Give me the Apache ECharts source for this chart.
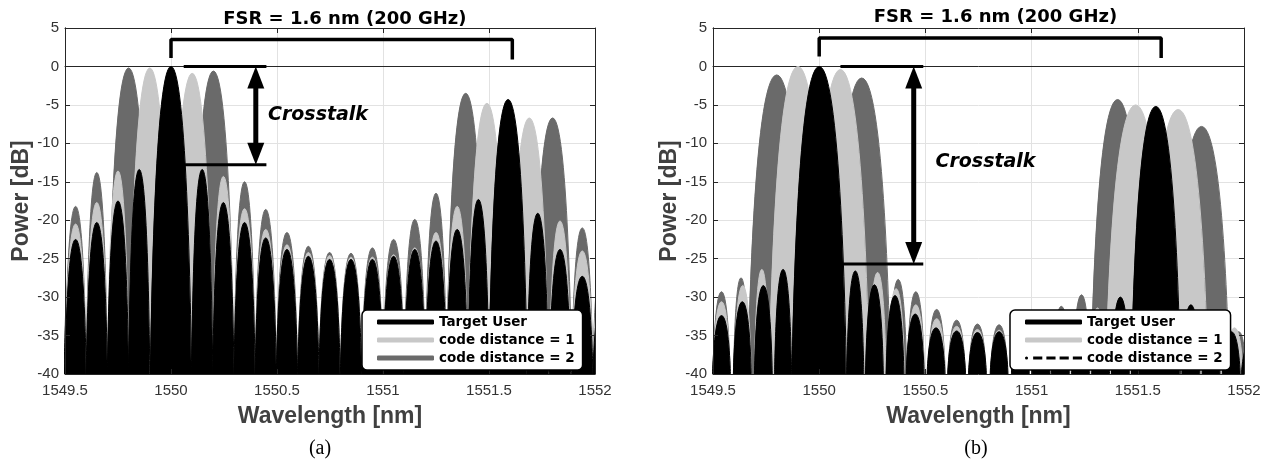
<!DOCTYPE html>
<html><head><meta charset="utf-8">
<script src="https://cdn.jsdelivr.net/npm/echarts@6/dist/echarts.min.js"></script>
<style>html,body{margin:0;padding:0;background:#fff}#c{width:1273px;height:469px}</style>
</head><body><div id="c"></div>
<script>
// ---------- tick labels / names ----------
const xTickLabels = ['1549.5','1550','1550.5','1551','1551.5','1552'];
const yTickLabels = ['-40','-35','-30','-25','-20','-15','-10','-5','0','5'];
const seriesNames = ['Target User','code distance = 1','code distance = 2'];
const panelCaptions = ['(a)','(b)'];
const fsrText = 'FSR = 1.6 nm (200 GHz)';
const xtalkText = 'Crosstalk';
const FLOOR_DB = -40;   // spectral nulls fall below the plotted range

// ---------- spectra, one entry per lobe: [centre nm, peak dB, half-width to null nm] ----------
// panel (a)
const a_target = [[1549.45,-25,0.05],[1549.55,-22.5,0.05],[1549.65,-20.3,0.05],[1549.75,-17.5,0.05],[1549.85,-13.4,0.05],
[1550.0,0,0.097],[1550.147,-13.4,0.05],[1550.247,-17.7,0.05],[1550.347,-20.3,0.05],[1550.447,-22.3,0.05],[1550.547,-23.8,0.05],
[1550.648,-24.7,0.05],[1550.748,-25.1,0.05],[1550.849,-25.1,0.05],[1550.95,-25.1,0.05],[1551.05,-24.7,0.05],[1551.15,-23.8,0.05],
[1551.25,-22.7,0.05],[1551.35,-21.2,0.05],[1551.45,-17.3,0.05],[1551.59,-4.3,0.09],[1551.73,-19.1,0.05],[1551.835,-23.8,0.05],
[1551.94,-27.3,0.05],[1552.04,-30,0.05]];
const a_cd1 = [[1549.45,-24,0.05],[1549.55,-20.5,0.05],[1549.65,-17.7,0.05],[1549.75,-13.6,0.05],[1549.9,-0.2,0.097],[1550.1,-0.9,0.097],
[1550.247,-14.3,0.05],[1550.347,-18.5,0.05],[1550.447,-21.2,0.05],[1550.547,-23.2,0.05],[1550.648,-24.2,0.05],[1550.748,-24.6,0.05],
[1550.849,-24.8,0.05],[1550.95,-24.8,0.05],[1551.05,-24.5,0.05],[1551.15,-23.6,0.05],[1551.25,-21.6,0.05],[1551.35,-18.2,0.05],
[1551.49,-4.8,0.09],[1551.69,-6.7,0.09],[1551.835,-20.1,0.05],[1551.94,-24,0.05],[1552.04,-27,0.05]];
const a_cd2 = [[1549.45,-22,0.05],[1549.55,-18.2,0.05],[1549.65,-13.8,0.05],[1549.8,-0.2,0.097],[1549.95,-13.6,0.05],[1550.05,-14.0,0.05],
[1550.2,-0.6,0.097],[1550.347,-15,0.05],[1550.447,-18.6,0.05],[1550.547,-21.6,0.05],[1550.648,-23.4,0.05],[1550.748,-24.2,0.05],
[1550.849,-24.3,0.05],[1550.95,-23.6,0.05],[1551.05,-22.5,0.05],[1551.15,-19.9,0.05],[1551.25,-16.5,0.05],[1551.39,-3.5,0.09],
[1551.54,-16.9,0.05],[1551.64,-19,0.05],[1551.8,-6.7,0.09],[1551.94,-21,0.05],[1552.04,-24,0.05]];
// panel (b)
const b_target = [[1549.44,-34,0.045],[1549.54,-32.4,0.042],[1549.638,-30.6,0.042],[1549.737,-28.5,0.042],[1549.83,-26.4,0.04],
[1550.0,0,0.128],[1550.17,-26.6,0.04],[1550.26,-28.4,0.042],[1550.357,-29.8,0.042],[1550.452,-32.2,0.042],[1550.55,-34,0.042],
[1550.647,-34.4,0.042],[1550.745,-34.6,0.042],[1550.847,-34.5,0.042],[1550.947,-34.5,0.042],[1551.045,-34.3,0.042],[1551.135,-33.8,0.042],
[1551.23,-33,0.042],[1551.325,-32,0.042],[1551.418,-30,0.042],[1551.585,-5.2,0.115],[1551.75,-31,0.042],[1551.845,-33,0.042],
[1551.94,-34.5,0.042],[1552.03,-36,0.042]];
const b_cd1 = [[1549.44,-32,0.04],[1549.54,-30.6,0.04],[1549.64,-28.5,0.04],[1549.73,-26.4,0.035],[1549.9,0,0.135],[1550.1,-0.4,0.135],
[1550.275,-26.8,0.04],[1550.362,-28.9,0.04],[1550.455,-31,0.04],[1550.553,-32.8,0.04],[1550.647,-33.8,0.04],[1550.745,-34.2,0.04],
[1550.847,-34.3,0.04],[1550.947,-34.2,0.04],[1551.045,-34,0.04],[1551.135,-33.2,0.04],[1551.23,-31.8,0.04],[1551.31,-31.4,0.035],
[1551.49,-5,0.14],[1551.69,-5.6,0.14],[1551.87,-32,0.04],[1551.955,-34,0.04]];
const b_cd2 = [[1549.44,-31,0.04],[1549.54,-29.3,0.04],[1549.632,-27.5,0.035],[1549.8,-1.1,0.135],[1549.97,-27.5,0.035],[1550.03,-27.9,0.035],
[1550.2,-1.5,0.135],[1550.372,-27.7,0.04],[1550.455,-29.3,0.04],[1550.553,-31.6,0.04],[1550.647,-33,0.04],[1550.745,-33.5,0.04],
[1550.847,-33.6,0.04],[1550.947,-33.4,0.04],[1551.045,-33,0.04],[1551.14,-31.2,0.04],[1551.235,-29.7,0.04],[1551.405,-4.3,0.125],
[1551.58,-30.7,0.035],[1551.8,-7.8,0.13],[1551.975,-34.5,0.035]];

// ---------- annotations (data coordinates) ----------
const a_bracket = [[1550.0,1.1],[1550.0,3.5],[1551.61,3.5],[1551.61,0.9]];
const a_xtalkTop = [[1550.06,0],[1550.45,0]];
const a_xtalkBottom = [[1549.97,-12.8],[1550.45,-12.8]];
const a_arrow = [[1550.40,0],[1550.40,-12.8]];
const a_fsrAt = [1550.82,3.5];
const a_xtalkAt = [1550.455,-6.3];

const b_bracket = [[1550.0,1.3],[1550.0,3.7],[1551.61,3.7],[1551.61,1.1]];
const b_xtalkTop = [[1550.10,0],[1550.49,0]];
const b_xtalkBottom = [[1550.02,-25.7],[1550.49,-25.7]];
const b_arrow = [[1550.445,0],[1550.445,-25.7]];
const b_fsrAt = [1550.83,3.7];
const b_xtalkAt = [1550.545,-12.5];

// ---------- styling ----------
const BLACK = '#000000', LIGHT = '#c8c8c8', DARK = '#6a6a6a';
const AX = '#262626', GRIDC = '#e2e2e2', LBL = '#333333';
const LOBE_SMOOTH = 0.85;
const grids = [{left:65, top:28, width:530, height:346}, {left:713, top:28, width:531, height:346}];
const legendPos = [{left:362, top:310}, {left:1010, top:310}];
const captionPos = [[320,449],[976,449]];

const upHead = 'path://M0,20 L8.5,0 L17,20 Z';
const downHead = 'path://M0,0 L17,0 L8.5,20 Z';
const dashIcon = 'path://M0,1.5 A1.5,1.5 0 1 0 3,1.5 A1.5,1.5 0 1 0 0,1.5 Z M8,0 L17,0 L17,3 L8,3 Z M21,0 L30,0 L30,3 L21,3 Z M34,0 L43,0 L43,3 L34,3 Z M47,0 L56,0 L56,3 L47,3 Z';

// each lobe becomes its own line segment: null -> peak -> null, then a break
function lobeData(lobes) {
  const out = [];
  lobes.forEach(([c, p, h]) => { out.push([c - h, FLOOR_DB], [c, p], [c + h, FLOOR_DB], [c + h, '-']); });
  return out;
}

const xAxes = [], yAxes = [];
function addAxes(gi) {
  const font = 'Liberation Sans, Arial, sans-serif';
  const xb = {type:'value', gridIndex:gi, min:1549.5, max:1552, interval:0.5, position:'bottom', z:0,
    axisLine:{show:true, lineStyle:{color:AX, width:1}}, axisTick:{show:false},
    axisLabel:{margin:9, color:LBL, fontFamily:font, fontSize:15,
      formatter:(v)=>xTickLabels[Math.round((v-1549.5)/0.5)]},
    splitLine:{show:true, lineStyle:{color:GRIDC, width:1}},
    name:'Wavelength [nm]', nameLocation:'middle', nameGap:31,
    nameTextStyle:{fontFamily:font, fontWeight:'bold', fontSize:23, color:'#404040'}};
  const edge = (pos) => ({type:'value', gridIndex:gi, min:1549.5, max:1552, interval:0.5, position:pos, z:5,
    axisLine:{show:true, onZero:false, lineStyle:{color:AX, width:1}}, axisTick:{show:true, inside:true, length:5, lineStyle:{color:AX}},
    axisLabel:{show:false}, splitLine:{show:false}});
  const yl = {type:'value', gridIndex:gi, min:-40, max:5, interval:5, position:'left', z:0,
    axisLine:{show:true, lineStyle:{color:AX, width:1}}, axisTick:{show:false},
    axisLabel:{margin:6, color:LBL, fontFamily:font, fontSize:15,
      formatter:(v)=>yTickLabels[Math.round((v+40)/5)]},
    splitLine:{show:true, lineStyle:{color:GRIDC, width:1}},
    name:'Power [dB]', nameLocation:'middle', nameRotate:90, nameGap:32,
    nameTextStyle:{fontFamily:font, fontWeight:'bold', fontSize:23, color:'#404040'}};
  const yedge = (pos) => ({type:'value', gridIndex:gi, min:-40, max:5, interval:5, position:pos, z:5,
    axisLine:{show:true, onZero:false, lineStyle:{color:AX, width:1}}, axisTick:{show:true, inside:true, length:5, lineStyle:{color:AX}},
    axisLabel:{show:false}, splitLine:{show:false}});
  xAxes.push(xb, edge('top'), edge('bottom')); yAxes.push(yl, yedge('right'), yedge('left'));
}
addAxes(0); addAxes(1);

function spectrum(gi, name, lobes, color, z) {
  return {type:'line', name, xAxisIndex:gi*3, yAxisIndex:gi*3, data:lobeData(lobes), smooth:LOBE_SMOOTH, connectNulls:false,
    symbol:'none', showSymbol:false, lineStyle:{color, width:1}, itemStyle:{color},
    areaStyle:{color, opacity:1, origin:'start'}, z, silent:true, clip:true};
}
function poly(gi, data, width) {
  return {type:'line', xAxisIndex:gi*3, yAxisIndex:gi*3, data, symbol:'none', showSymbol:false,
    lineStyle:{color:'#000', width, cap:'butt', opacity:1}, itemStyle:{color:'#000'}, z:10, silent:true, clip:false};
}
function shaftOf(arrow, inset) { return [[arrow[0][0], arrow[0][1]-inset], [arrow[1][0], arrow[1][1]+inset]]; }
function annotations(gi, bracket, top, bottom, arrow, fsrAt, xtalkAt) {
  return [
    poly(gi, bracket, 3.5),
    poly(gi, top, 3),
    poly(gi, bottom, 3),
    poly(gi, shaftOf(arrow, 2.0), 5),
    {type:'scatter', xAxisIndex:gi*3, yAxisIndex:gi*3, z:11, silent:true, symbolKeepAspect:false,
      itemStyle:{color:'#000', opacity:1},
      data:[{value:arrow[0], symbol:upHead, symbolSize:[17,22], symbolOffset:[0,'50%']},
            {value:arrow[1], symbol:downHead, symbolSize:[17,22], symbolOffset:[0,'-50%']}]},
    {type:'scatter', xAxisIndex:gi*3, yAxisIndex:gi*3, z:11, silent:true, symbolSize:1,
      itemStyle:{color:'rgba(0,0,0,0)', opacity:1},
      data:[{value:fsrAt, label:{show:true, position:'top', distance:11, formatter:fsrText,
                fontFamily:'DejaVu Sans', fontWeight:'bold', fontSize:18, color:'#000', opacity:1}},
            {value:xtalkAt, label:{show:true, position:'right', distance:0, formatter:xtalkText,
                fontFamily:'DejaVu Sans', fontWeight:'bold', fontStyle:'italic', fontSize:19, color:'#000', opacity:1}}]}
  ];
}

const series = [
  spectrum(0, seriesNames[2], a_cd2, DARK, 2),
  spectrum(0, seriesNames[1], a_cd1, LIGHT, 3),
  spectrum(0, seriesNames[0], a_target, BLACK, 4),
  spectrum(1, seriesNames[2], b_cd2, DARK, 2),
  spectrum(1, seriesNames[1], b_cd1, LIGHT, 3),
  spectrum(1, seriesNames[0], b_target, BLACK, 4),
  ...annotations(0, a_bracket, a_xtalkTop, a_xtalkBottom, a_arrow, a_fsrAt, a_xtalkAt),
  ...annotations(1, b_bracket, b_xtalkTop, b_xtalkBottom, b_arrow, b_fsrAt, b_xtalkAt)
];

function legendFor(i, thirdIcon, thirdColor) {
  return {show:true, z:30, orient:'vertical', left:legendPos[i].left, top:legendPos[i].top, selectedMode:false,
    itemWidth:57, itemHeight:5, itemGap:4, padding:[5,8,5,15],
    backgroundColor:'#ffffff', borderColor:'#000000', borderWidth:1.5, borderRadius:5,
    textStyle:{fontFamily:'DejaVu Sans', fontWeight:'bold', fontSize:13.5, color:'#000'},
    data:[{name:seriesNames[0], icon:'roundRect', itemStyle:{color:BLACK, borderWidth:0}},
          {name:seriesNames[1], icon:'roundRect', itemStyle:{color:LIGHT, borderWidth:0}},
          {name:seriesNames[2], icon:thirdIcon, itemStyle:{color:thirdColor, borderWidth:0}}]};
}

const chart = echarts.init(document.getElementById('c'), null, {renderer:'canvas'});
chart.setOption({
  animation:false,
  backgroundColor:'#ffffff',
  grid:grids.map(g=>Object.assign({containLabel:false, outerBoundsMode:'none'}, g)),
  xAxis:xAxes, yAxis:yAxes,
  legend:[legendFor(0,'roundRect',DARK), legendFor(1,dashIcon,BLACK)],
  tooltip:{show:false},
  series,
  graphic:panelCaptions.map((t,i)=>({type:'text', x:captionPos[i][0], y:captionPos[i][1],
    style:{text:t, textAlign:'center', textVerticalAlign:'middle', font:'20px "Liberation Serif", "Times New Roman", serif', fill:'#000'}}))
});
</script></body></html>
